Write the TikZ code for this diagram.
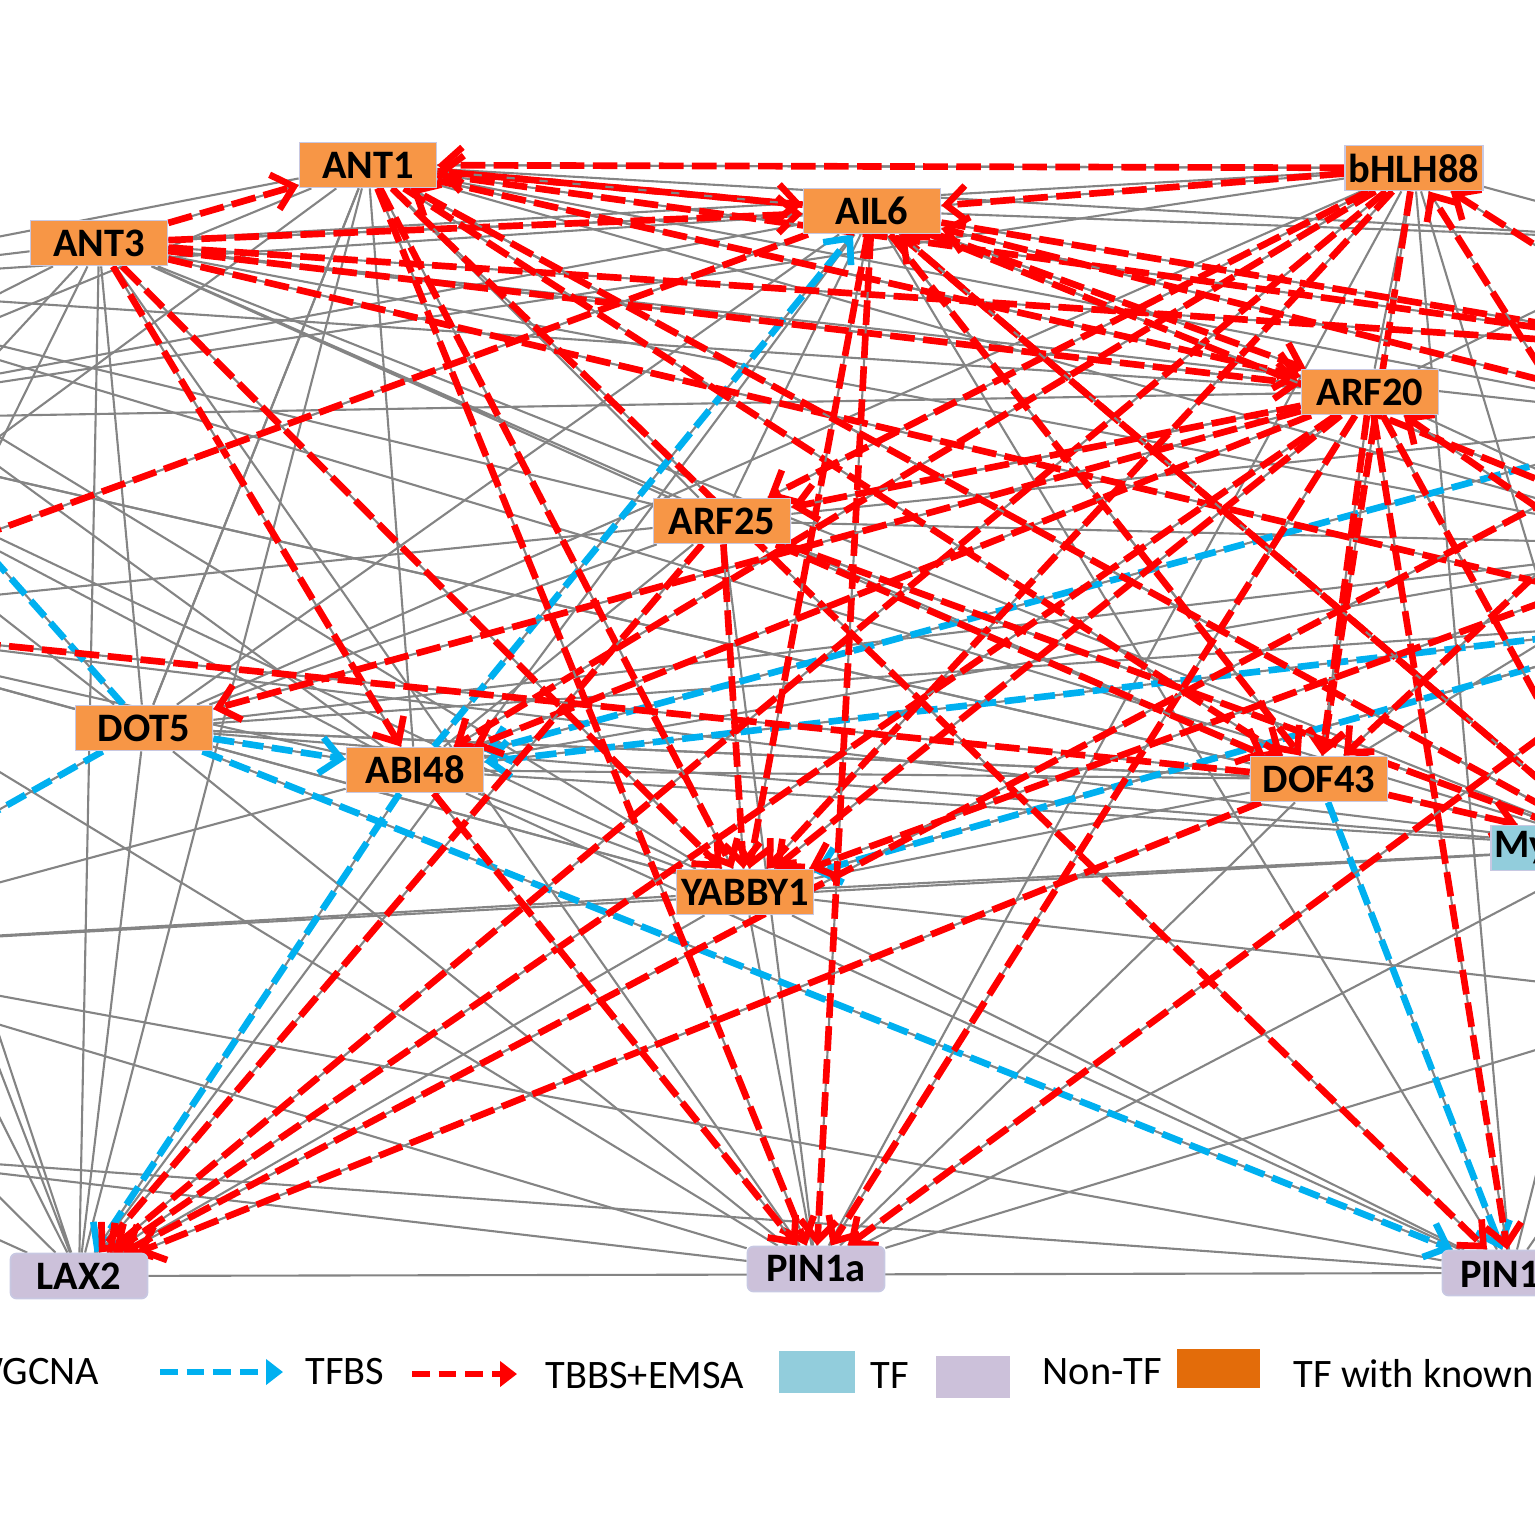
\documentclass[tikz,border=0pt]{standalone}
\usepackage{fontspec}
\setmainfont{Carlito}
\usetikzlibrary{arrows.meta}

\definecolor{tfknownfill}{RGB}{247,150,70}
\definecolor{nontffill}{RGB}{204,193,218}
\definecolor{tffill}{RGB}{146,205,220}
\definecolor{knownkey}{RGB}{227,108,10}
\definecolor{wgray}{RGB}{132,132,132}
\definecolor{emsared}{RGB}{255,0,0}
\definecolor{tfbsblue}{RGB}{0,176,240}
\definecolor{nodeedge}{RGB}{200,200,226}

\pgfdeclarelayer{edges}
\pgfsetlayers{edges,main}

\tikzset{
  gene/.style={rectangle, draw=nodeedge, line width=0.5pt, minimum width=13.7mm,
    minimum height=4.5mm, inner sep=1pt, font=\fontsize{11.5}{13}\selectfont\bfseries},
  tfknown/.style={gene, fill=tfknownfill},
  tf/.style={gene, fill=tffill},
  nontf/.style={gene, fill=nontffill, rounded corners=0.6mm},
  wgcna/.style={draw=wgray, line width=0.6pt},
  tbbs/.style={draw=emsared, line width=1.9pt, dash pattern=on 7pt off 2.4pt,
    -{Straight Barb[length=2mm,width=3.6mm]},
    preaction={draw=wgray, solid, line width=0.6pt, arrows=-}},
  tfbs/.style={draw=tfbsblue, line width=1.9pt, dash pattern=on 6pt off 2.4pt,
    -{Straight Barb[length=2mm,width=3.6mm]},
    preaction={draw=wgray, solid, line width=0.6pt, arrows=-}},
  keyarrow/.style={line width=1.8pt, dash pattern=on 5pt off 2.6pt,
    -{Triangle[length=1.7mm,width=2.5mm]}},
  keybox/.style={rectangle, inner sep=0pt},
  keytext/.style={inner sep=0pt, font=\fontsize{11.5}{13}\selectfont}
}

\begin{document}
\begin{tikzpicture}[x=0.1mm, y=-0.1mm]
\useasboundingbox (0,0) rectangle (1535,1535);
\clip (0,0) rectangle (1535,1535);

% genes in the frame
\node[tfknown] (ANT1) at (368,165) {ANT1};
\node[tfknown] (ANT3) at (99,243) {ANT3};
\node[tfknown] (AIL6) at (872,211) {AIL6};
\node[tfknown] (bHLH88) at (1414,168) {bHLH88};
\node[tfknown] (ARF20) at (1370,392) {ARF20};
\node[tfknown] (ARF25) at (722,521) {ARF25};
\node[tfknown] (DOT5) at (144,728) {DOT5};
\node[tfknown] (ABI48) at (415,770) {ABI48};
\node[tfknown] (DOF43) at (1319,779) {DOF43};
\node[tfknown] (YABBY1) at (745,892) {YABBY1};
\node[tf, anchor=west, text width=25mm, align=left] (My) at (1490,848) {My};
\node[nontf] (LAX2) at (79,1276) {LAX2};
\node[nontf] (PIN1a) at (816,1269) {PIN1a};
\node[nontf] (PIN1b) at (1511,1273) {PIN1\phantom{b}};

% genes outside the frame
\coordinate (Lt) at (-250,285);
\coordinate (Lu) at (-250,420);
\coordinate (Lm) at (-250,620);
\coordinate (Lb) at (-250,950);
\coordinate (Lbb) at (-200,1150);
\coordinate (Rt) at (1680,240);
\coordinate (Ra) at (1700,350);
\coordinate (Rb) at (1700,420);
\coordinate (Rc) at (1700,545);
\coordinate (Rd) at (1700,620);
\coordinate (Re) at (1700,1000);

\begin{pgfonlayer}{edges}
\clip (0,0) rectangle (1535,1535);
% WGCNA
\draw[wgcna] (ANT3) -- (Lt) (ANT3) -- (Lu) (ANT3) -- (Lm) (ANT3) -- (Lb) (ANT3) -- (DOT5)
  (ANT3) -- (LAX2) (ANT3) -- (PIN1a) (ANT3) -- (DOF43) (ANT3) -- (My) (ANT3) -- (ARF25)
  (ANT3) -- (Rb) (ANT3) -- (Rc);
\draw[wgcna] (ANT1) -- (Lt) (ANT1) -- (Lu) (ANT1) -- (Lm) (ANT1) -- (DOT5) (ANT1) -- (ABI48)
  (ANT1) -- (LAX2) (ANT1) -- (ARF25) (ANT1) -- (My) (ANT1) -- (Rb) (ANT1) -- (Rc)
  (ANT1) -- (bHLH88) (ANT1) -- (Rt);
\draw[wgcna] (AIL6) -- (Lt) (AIL6) -- (Lu) (AIL6) -- (DOT5) (AIL6) -- (ARF25) (AIL6) -- (LAX2)
  (AIL6) -- (PIN1b) (AIL6) -- (Rt) (AIL6) -- (Rc) (AIL6) -- (ANT3);
\draw[wgcna] (bHLH88) -- (Lu) (bHLH88) -- (DOT5) (bHLH88) -- (PIN1a) (bHLH88) -- (PIN1b)
  (bHLH88) -- (My) (bHLH88) -- (Rt) (bHLH88) -- (ARF20) (bHLH88) -- (ANT3);
\draw[wgcna] (ARF20) -- (ANT3) (ARF20) -- (ANT1) (ARF20) -- (Lt) (ARF20) -- (Lu)
  (ARF20) -- (ARF25) (ARF20) -- (My) (ARF20) -- (Rt) (ARF20) -- (Rc);
\draw[wgcna] (ARF25) -- (Lt) (ARF25) -- (Lm) (ARF25) -- (DOT5) (ARF25) -- (ABI48)
  (ARF25) -- (PIN1a) (ARF25) -- (Rb) (ARF25) -- (Rc);
\draw[wgcna] (DOT5) -- (Lu) (DOT5) -- (Lm) (DOT5) -- (LAX2) (DOT5) -- (PIN1a) (DOT5) -- (DOF43)
  (DOT5) -- (My) (DOT5) -- (YABBY1) (DOT5) -- (Rc) (DOT5) -- (Rd) (DOT5) -- (ANT1);
\draw[wgcna] (ABI48) -- (Lt) (ABI48) -- (Lu) (ABI48) -- (Lm) (ABI48) -- (Lb) (ABI48) -- (PIN1b)
  (ABI48) -- (YABBY1) (ABI48) -- (DOF43) (ABI48) -- (My) (ABI48) -- (Rc);
\draw[wgcna] (DOF43) -- (Lu) (DOF43) -- (DOT5) (DOF43) -- (YABBY1) (DOF43) -- (PIN1a)
  (DOF43) -- (Rc) (DOF43) -- (AIL6);
\draw[wgcna] (YABBY1) -- (Lt) (YABBY1) -- (Lu) (YABBY1) -- (Lm) (YABBY1) -- (Lb)
  (YABBY1) -- (LAX2) (YABBY1) -- (PIN1a) (YABBY1) -- (PIN1b) (YABBY1) -- (My)
  (YABBY1) -- (Rd) (YABBY1) -- (Re);
\draw[wgcna] (LAX2) -- (Lt) (LAX2) -- (Lu) (LAX2) -- (Lm) (LAX2) -- (Lb) (LAX2) -- (Lbb)
  (LAX2) -- (PIN1b);
\draw[wgcna] (PIN1a) -- (Lm) (PIN1a) -- (Lb) (PIN1a) -- (Lbb) (PIN1a) -- (My) (PIN1a) -- (Re);
\draw[wgcna] (PIN1b) -- (Lb) (PIN1b) -- (Lbb) (PIN1b) -- (My) (PIN1b) -- (Re);
\draw[wgcna] (My) -- (Lt) (My) -- (Lu) (My) -- (Lm) (My) -- (Lb) (My) -- (ARF25);

% TFBS
\draw[tfbs] (ABI48) -- (AIL6);
\draw[tfbs] (ABI48) -- (LAX2);
\draw[tfbs] (DOT5) -- (ABI48);
\draw[tfbs] (DOT5) -- (PIN1b);
\draw[tfbs] (DOT5) -- (Lt);
\draw[tfbs] (DOT5) -- (Lb);
\draw[tfbs] (Rb) -- (ABI48);
\draw[tfbs] (Rd) -- (ABI48);
\draw[tfbs] (Rd) -- (YABBY1);
\draw[tfbs] (DOF43) -- (PIN1b);

% TBBS+EMSA
\draw[tbbs] (bHLH88) -- (ANT1);
\draw[tbbs] (bHLH88) -- (AIL6);
\draw[tbbs] (bHLH88) -- (YABBY1);
\draw[tbbs] (bHLH88) -- (LAX2);
\draw[tbbs] (bHLH88) -- (DOF43);
\draw[tbbs] (bHLH88) -- (ABI48);
\draw[tbbs] (bHLH88) -- (ARF25);
\draw[tbbs] (ANT3) -- (ANT1);
\draw[tbbs] (ANT3) -- (AIL6);
\draw[tbbs] (ANT3) -- (ARF20);
\draw[tbbs] (ANT3) -- (Ra);
\draw[tbbs] (ANT3) -- (Rd);
\draw[tbbs] (ANT3) -- (ABI48);
\draw[tbbs] (ANT3) -- (YABBY1);
\draw[tbbs] (ANT1) -- (AIL6);
\draw[tbbs] (ANT1) -- (ARF20);
\draw[tbbs] (ANT1) -- (Ra);
\draw[tbbs] (ANT1) -- (PIN1a);
\draw[tbbs] (ANT1) -- (YABBY1);
\draw[tbbs] (ANT1) -- (PIN1b);
\draw[tbbs] (ANT1) -- (DOF43);
\draw[tbbs] (AIL6) -- (ANT1);
\draw[tbbs] (AIL6) -- (ARF20);
\draw[tbbs] (AIL6) -- (YABBY1);
\draw[tbbs] (AIL6) -- (PIN1a);
\draw[tbbs] (AIL6) -- (DOF43);
\draw[tbbs] (AIL6) -- (My);
\draw[tbbs] (AIL6) -- (Lm);
\draw[tbbs] (AIL6) -- (Ra);
\draw[tbbs] (AIL6) -- (Rc);
\draw[tbbs] (ARF20) -- (DOT5);
\draw[tbbs] (ARF20) -- (LAX2);
\draw[tbbs] (ARF20) -- (PIN1b);
\draw[tbbs] (ARF20) -- (PIN1a);
\draw[tbbs] (ARF20) -- (YABBY1);
\draw[tbbs] (ARF20) -- (DOF43);
\draw[tbbs] (ARF20) -- (ARF25);
\draw[tbbs] (ARF20) -- (ABI48);
\draw[tbbs] (ARF20) -- (My);
\draw[tbbs] (ARF25) -- (YABBY1);
\draw[tbbs] (ARF25) -- (LAX2);
\draw[tbbs] (ARF25) -- (DOF43);
\draw[tbbs] (ARF25) -- (My);
\draw[tbbs] (DOF43) -- (LAX2);
\draw[tbbs] (DOF43) -- (Lm);
\draw[tbbs] (DOF43) -- (My);
\draw[tbbs] (ABI48) -- (PIN1a);
\draw[tbbs] (My) -- (ANT1);
\draw[tbbs] (My) -- (AIL6);
\draw[tbbs] (Ra) -- (bHLH88);
\draw[tbbs] (Rd) -- (bHLH88);
\draw[tbbs] (Rd) -- (ARF20);
\draw[tbbs] (Rd) -- (PIN1a);
\draw[tbbs] (Rb) -- (AIL6);
\draw[tbbs] (Rb) -- (DOF43);
\draw[tbbs] (Rb) -- (LAX2);
\draw[tbbs] (Rc) -- (YABBY1);
\end{pgfonlayer}

% key
\node[keytext, anchor=east] (wgcnaKey) at (100,1372) {WGCNA};
\coordinate (tfbsFrom) at (160,1372);
\coordinate (tfbsTo) at (283,1372);
\draw[keyarrow, tfbsblue] (tfbsFrom) -- (tfbsTo);
\node[keytext, anchor=west] (tfbsKey) at (305,1372) {TFBS};
\coordinate (tbbsFrom) at (412,1374);
\coordinate (tbbsTo) at (517,1374);
\draw[keyarrow, emsared] (tbbsFrom) -- (tbbsTo);
\node[keytext, anchor=west] (tbbsKey) at (545,1376) {TBBS+EMSA};
\node[keybox, fill=tffill, minimum width=7.6mm, minimum height=4.2mm] (tfBox) at (817,1372) {};
\node[keytext, anchor=west] (tfKey) at (870,1376) {TF};
\node[keybox, fill=nontffill, minimum width=7.4mm, minimum height=4.2mm] (nontfBox) at (973,1377) {};
\node[keytext, anchor=west] (nontfKey) at (1042,1372) {Non-TF};
\node[keybox, fill=knownkey, minimum width=8.3mm, minimum height=3.9mm] (knownBox) at (1218,1368) {};
\node[keytext, anchor=west] (knownKey) at (1293,1374) {TF with known};
\end{tikzpicture}
\end{document}
